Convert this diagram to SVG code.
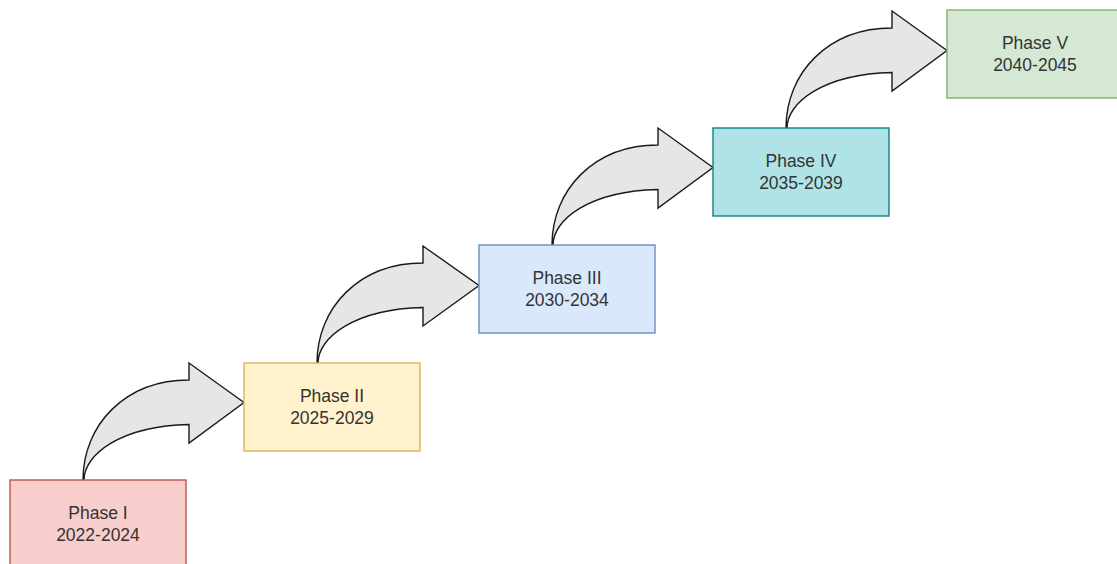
<svg xmlns="http://www.w3.org/2000/svg" width="1117" height="564" viewBox="0 0 1117 564">
  <style>
    .box { stroke-width: 1.4; }
    .label { font-family: "Liberation Sans", Arial, sans-serif; font-size: 17.5px; fill: #333333; text-anchor: middle; }
    .jump { fill: #e6e6e6; stroke: #1a1a1a; stroke-width: 1.4; stroke-linejoin: miter; }
  </style>
  <rect width="1117" height="564" fill="#ffffff"/>

  <!-- curved jump arrows between consecutive phases -->
  <g id="connectors">
    <path class="jump" d="M83,480 C83,425 125,380 189,380 L189,363 L244,402.5 L189,443 L189,424.5 C120,426 84,455 84,480 Z"/>
    <path class="jump" d="M317,363 C317,308 359,263 423,263 L423,246 L479,285.5 L423,326 L423,307.5 C354,309 318,338 318,363 Z"/>
    <path class="jump" d="M552,245 C552,190 594,145 658,145 L658,128 L713,167.5 L658,208 L658,189.5 C589,191 553,220 553,245 Z"/>
    <path class="jump" d="M786,128 C786,73 828,28 892,28 L892,11 L947,50.5 L892,91 L892,72.5 C823,74 787,103 787,128 Z"/>
  </g>

  <g id="phase1">
    <rect class="box" x="10" y="480" width="176" height="88" fill="#f8cecc" stroke="#b85450"/>
    <text class="label" x="98" y="518.5">Phase I</text>
    <text class="label" x="98" y="540.5">2022-2024</text>
  </g>

  <g id="phase2">
    <rect class="box" x="244" y="363" width="176" height="88" fill="#fff2cc" stroke="#d6b656"/>
    <text class="label" x="332" y="401.5">Phase II</text>
    <text class="label" x="332" y="423.5">2025-2029</text>
  </g>

  <g id="phase3">
    <rect class="box" x="479" y="245" width="176" height="88" fill="#dae8fc" stroke="#6c8ebf"/>
    <text class="label" x="567" y="283.5">Phase III</text>
    <text class="label" x="567" y="305.5">2030-2034</text>
  </g>

  <g id="phase4">
    <rect class="box" x="713" y="128" width="176" height="88" fill="#b0e3e6" stroke="#0e8088"/>
    <text class="label" x="801" y="166.5">Phase IV</text>
    <text class="label" x="801" y="188.5">2035-2039</text>
  </g>

  <g id="phase5">
    <rect class="box" x="947" y="10" width="176" height="88" fill="#d5e8d4" stroke="#82b366"/>
    <text class="label" x="1035" y="48.5">Phase V</text>
    <text class="label" x="1035" y="70.5">2040-2045</text>
  </g>
</svg>
